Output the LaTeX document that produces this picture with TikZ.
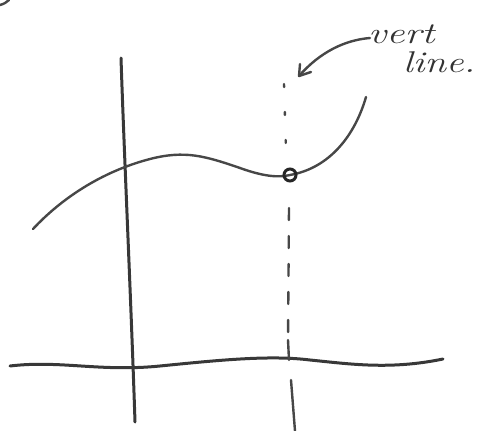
\documentclass[tikz,border=0pt]{standalone}
\usetikzlibrary{arrows.meta}
\begin{document}
\begin{tikzpicture}[x=1pt,y=-1pt,
  pen/.style={draw=black!78,line width=3pt,line cap=round,line join=round},
  thinpen/.style={draw=black!72,line width=2.4pt,line cap=round,line join=round},
  dashpen/.style={draw=black!72,line width=2.4pt,line cap=round},
  hand/.style={font=\itshape\fontsize{30}{30}\selectfont,text=black!80,inner sep=0pt}]
\useasboundingbox (0,0) rectangle (485,431);
% fragment at top-left corner
\draw[thinpen] (0,5) .. controls (4,4) and (7,2) .. (9,0);
% vertical axis
\coordinate (vt) at (121,58);
\coordinate (vb) at (135,422);
\draw[pen] (vt) .. controls (124,150) and (131,300) .. (vb);
% horizontal axis
\coordinate (hl) at (10,366);
\coordinate (hr) at (443,359);
\draw[pen] (hl) .. controls (60,360) and (100,372) .. (160,366)
  .. controls (220,360) and (270,355) .. (310,360)
  .. controls (350,364) and (390,370) .. (hr);
% curve
\coordinate (c0) at (33,229);
\coordinate (p) at (290,175);
\coordinate (c1) at (366,97);
\draw[thinpen] (c0) .. controls (60,200) and (100,172) .. (150,159)
  .. controls (185,150) and (205,156) .. (240,168)
  .. controls (262,176) and (278,178) .. (p)
  .. controls (330,168) and (355,135) .. (c1);
% point
\node[circle,draw=black!85,line width=3pt,minimum size=12pt,inner sep=0pt] (pt) at (p) {};
% dashed vertical line
\coordinate (d0) at (284,84);
\coordinate (d1) at (288,340);
\coordinate (d2) at (295,431);
\draw[dashpen,dash pattern=on 3pt off 25pt] (d0) -- (286,150);
\draw[dashpen,dash pattern=on 12pt off 16pt] (289,208) -- (d1);
\draw[dashpen] (d1) -- (289,360);
\draw[dashpen] (291,380) -- (d2);
% arrow and label
\node[hand,anchor=south west] (vert) at (368,44) {\scalebox{1.35}[1]{vert}};
\node[hand,anchor=south west] (line) at (403,73) {\scalebox{1.3}[1]{line.}};
\coordinate (tip) at (299,76);
\draw[thinpen] (370,38) .. controls (345,40) and (320,52) .. (tip);
\draw[thinpen] (tip) -- (300,64);
\draw[thinpen] (tip) -- (311,72);
\end{tikzpicture}
\end{document}
